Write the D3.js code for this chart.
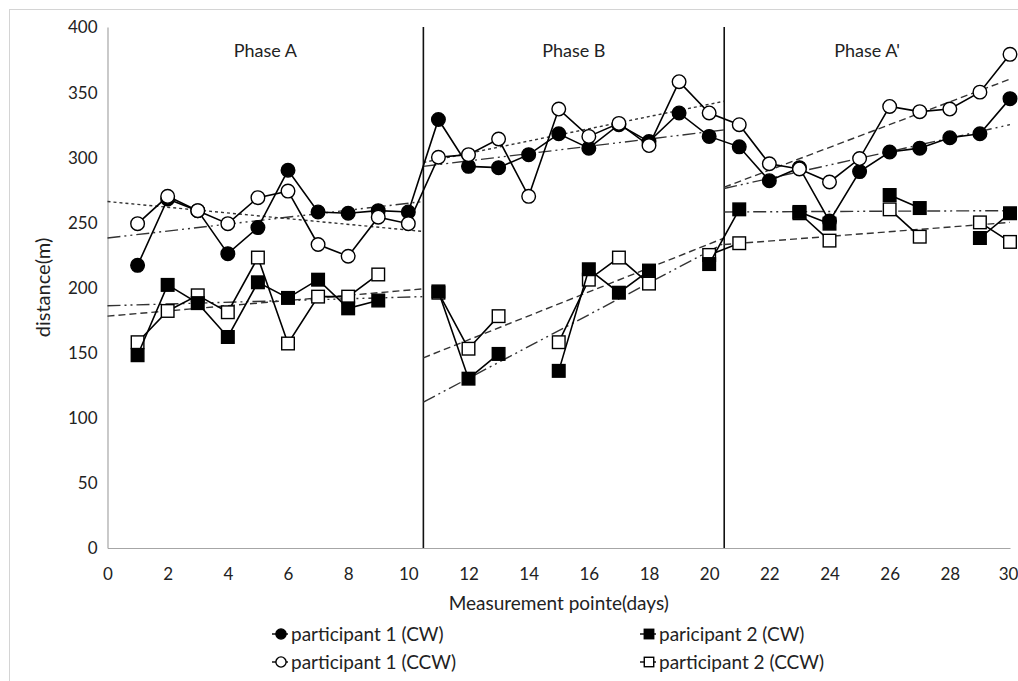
<!DOCTYPE html>
<html>
<head>
<meta charset="utf-8">
<script src="https://cdn.jsdelivr.net/npm/d3@7"></script>
<style>
  body { margin: 0; background: #fff; }
  text { font-family: Lato, "Open Sans", sans-serif; fill: #222; }
</style>
</head>
<body>
<div id="chart"></div>
<script>
// days 1..30, null = no measurement
const days = d3.range(1, 31);
const p1CW  = [217,268,259,226,246,290,258,257,259,258, 329,293,292,302,318,307,325,312,334,316, 308,282,292,251,289,304,307,315,318,345];
const p1CCW = [249,270,259,249,269,274,233,224,254,249, 300,302,314,270,337,316,326,309,358,334, 325,295,291,281,299,339,335,337,350,379];
const p2CW  = [148,202,188,162,204,192,206,184,190,null, 197,130,149,null,136,214,196,213,null,218, 260,null,258,249,null,271,261,null,238,257];
const p2CCW = [158,182,194,181,223,157,193,193,210,null, 196,153,178,null,158,206,223,203,null,225, 234,null,257,236,null,260,239,null,250,235];

// phases and their trend lines (start/end value per phase)
const phaseNames = ["Phase A", "Phase B", "Phase A'"];
const phaseStart = [0, 10.5, 20.5];
const phaseEnd   = [10.5, 20.5, 30];
const trendP1CW  = [[238, 266], [293, 321], [276, 325]];
const trendP1CCW = [[266, 243], [296, 343], [277, 360]];
const trendP2CW  = [[186, 193], [112, 234], [258, 259]];
const trendP2CCW = [[178, 199], [146, 238], [233, 250]];

const xTicks = d3.range(0, 31, 2);
const yTicks = d3.range(0, 401, 50);

const width = 1018, height = 681;
const svg = d3.select("#chart").append("svg")
    .attr("width", width)
    .attr("height", height);

// light frame round the chart
svg.append("rect")
    .attr("x", 9.5).attr("y", 9.5)
    .attr("width", 1030).attr("height", 700)
    .attr("fill", "none")
    .attr("stroke", "#d4d4d4");

const x = d3.scaleLinear().domain([0, 30]).range([107.5, 1010]);
const y = d3.scaleLinear().domain([0, 400]).range([548, 27]);

// axes
const gx = svg.append("g")
    .attr("transform", `translate(0,${y(0)})`)
    .call(d3.axisBottom(x).tickValues(xTicks).tickSize(0).tickPadding(20));
const gy = svg.append("g")
    .attr("transform", `translate(${x(0)},0)`)
    .call(d3.axisLeft(y).tickValues(yTicks).tickSize(0).tickPadding(10));
[gx, gy].forEach(g => {
    g.select(".domain").attr("stroke", "#a6a6a6").attr("stroke-width", 1.2);
    g.selectAll("text").style("font-size", "17px").style("fill", "#222");
});
gy.selectAll("text").attr("dy", "0.35em");
gx.selectAll("text").filter(d => d === 30).attr("dx", "-2");

svg.append("text")
    .attr("x", x(15)).attr("y", 610)
    .attr("text-anchor", "middle")
    .style("font-size", "19px")
    .text("Measurement pointe(days)");

svg.append("text")
    .attr("transform", `translate(50,${y(200)}) rotate(-90)`)
    .attr("text-anchor", "middle")
    .style("font-size", "20px")
    .text("distance(m)");

// phase dividers and names
svg.selectAll(".divider")
    .data(phaseStart.slice(1))
    .join("line")
    .attr("x1", d => x(d)).attr("x2", d => x(d))
    .attr("y1", y(400)).attr("y2", y(0))
    .attr("stroke", "#111")
    .attr("stroke-width", 1.6);

svg.selectAll(".phase")
    .data(phaseNames)
    .join("text")
    .attr("x", (d, i) => x((phaseStart[i] + phaseEnd[i]) / 2))
    .attr("y", 57)
    .attr("text-anchor", "middle")
    .style("font-size", "18px")
    .text(d => d);

// trend lines
const DOT = "3,3", DASH = "7,4", DASHDOT = "13,4,2,4,2,4";
const trends = [
    { vals: trendP2CCW, dash: [DASH, DASH, DASH] },
    { vals: trendP2CW, dash: [DASHDOT, DASHDOT, DASHDOT] },
    { vals: trendP1CW, dash: [DASHDOT, DASHDOT, DASHDOT] },
    { vals: trendP1CCW, dash: [DOT, DOT, DASH] }
];
trends.forEach(t => {
    svg.append("g").selectAll("line")
        .data(t.vals)
        .join("line")
        .attr("x1", (d, i) => x(phaseStart[i]))
        .attr("x2", (d, i) => x(phaseEnd[i]))
        .attr("y1", d => y(d[0]))
        .attr("y2", d => y(d[1]))
        .attr("stroke", "#333")
        .attr("stroke-width", 1.4)
        .attr("stroke-dasharray", (d, i) => t.dash[i]);
});

// data series
const series = [
    { name: "participant 2 (CCW)", vals: p2CCW, shape: "square", fill: "#fff" },
    { name: "paricipant 2 (CW)", vals: p2CW, shape: "square", fill: "#000" },
    { name: "participant 1 (CW)", vals: p1CW, shape: "circle", fill: "#000" },
    { name: "participant 1 (CCW)", vals: p1CCW, shape: "circle", fill: "#fff" }
];

const line = d3.line()
    .defined(d => d[1] !== null)
    .x(d => x(d[0]))
    .y(d => y(d[1]));

function drawMarker(g, shape, fill, cx, cy, s) {
    if (shape === "circle") {
        g.append("circle")
            .attr("cx", cx).attr("cy", cy).attr("r", 6.8 * s)
            .attr("fill", fill).attr("stroke", "#000").attr("stroke-width", 1.4);
    } else {
        g.append("rect")
            .attr("x", cx - 6.3 * s).attr("y", cy - 6.3 * s)
            .attr("width", 12.6 * s).attr("height", 12.6 * s)
            .attr("fill", fill).attr("stroke", "#000").attr("stroke-width", 1.4);
    }
}

series.forEach(s => {
    const pts = days.map((d, i) => [d, s.vals[i]]);
    svg.append("path")
        .datum(pts)
        .attr("d", line)
        .attr("fill", "none")
        .attr("stroke", "#000")
        .attr("stroke-width", 1.6);
    const g = svg.append("g");
    pts.filter(p => p[1] !== null).forEach(p => drawMarker(g, s.shape, s.fill, x(p[0]), y(p[1]), 1));
});

// legend
const legendItems = [
    { name: "participant 1 (CW)", shape: "circle", fill: "#000", lx: 272, ly: 634 },
    { name: "paricipant 2 (CW)", shape: "square", fill: "#000", lx: 640, ly: 634 },
    { name: "participant 1 (CCW)", shape: "circle", fill: "#fff", lx: 272, ly: 662 },
    { name: "participant 2 (CCW)", shape: "square", fill: "#fff", lx: 640, ly: 662 }
];
legendItems.forEach(it => {
    const g = svg.append("g");
    g.append("line")
        .attr("x1", it.lx).attr("x2", it.lx + 16)
        .attr("y1", it.ly).attr("y2", it.ly)
        .attr("stroke", "#000").attr("stroke-width", 1.4);
    drawMarker(g, it.shape, it.fill, it.lx + 9, it.ly, 0.75);
    g.append("text")
        .attr("x", it.lx + 19).attr("y", it.ly)
        .attr("dy", "0.35em")
        .style("font-size", "19px")
        .text(it.name);
});
</script>
</body>
</html>
